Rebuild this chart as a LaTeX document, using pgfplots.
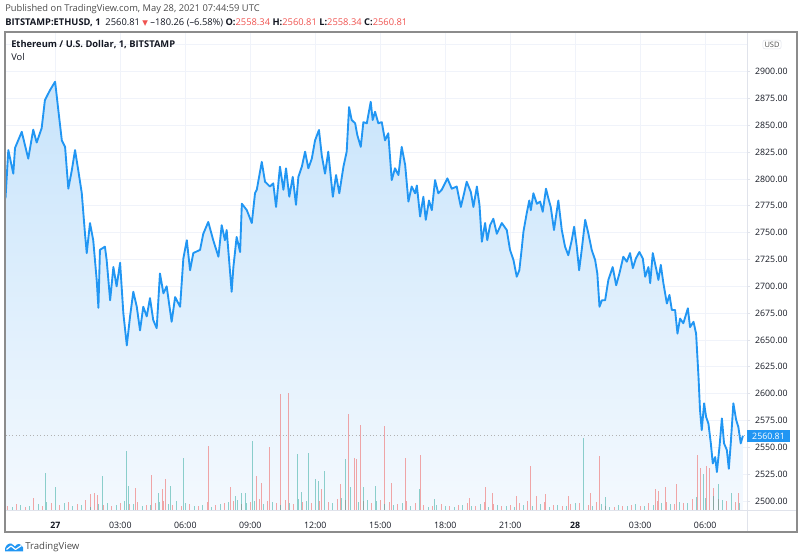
\documentclass[border=0pt]{standalone}
\usepackage{pgfplots}
\usepackage{pgfplotstable}
\pgfplotsset{compat=1.18}
\usepackage{fontspec}
\setmainfont{Open Sans}
\newfontfamily\sym{DejaVu Sans}
\definecolor{tvblue}{RGB}{33,150,243}
\definecolor{tvred}{RGB}{239,83,80}
\definecolor{tvgreen}{RGB}{38,166,154}
\definecolor{gridc}{RGB}{240,243,250}
\definecolor{txt}{RGB}{19,23,34}
\definecolor{hdr}{RGB}{74,74,74}
\definecolor{fillTop}{RGB}{200,228,251}
\definecolor{fillBot}{RGB}{244,249,254}
\definecolor{frame}{RGB}{140,140,140}
\definecolor{sep}{RGB}{224,227,235}

\pgfplotstableread{
t p
-2.30 2782
-2.17 2827
-1.94 2805
-1.86 2829
-1.55 2844
-1.25 2819
-1.02 2846
-0.86 2834
-0.63 2847.5
-0.48 2873.6
-0.24 2883
-0.01 2890.7
0.14 2864
0.30 2836
0.45 2830
0.60 2791
0.76 2808
0.91 2827
1.06 2808
1.22 2787
1.37 2749
1.45 2731
1.60 2759
1.75 2743
1.91 2706
1.99 2680
2.06 2734
2.29 2737
2.37 2724.5
2.53 2687
2.68 2718
2.83 2700
2.99 2722
3.14 2675
3.30 2645
3.45 2672
3.60 2695
3.76 2681
3.91 2659
4.06 2681
4.22 2672
4.37 2689
4.52 2668.6
4.68 2661
4.83 2712
4.99 2693.5
5.14 2700
5.37 2667
5.53 2690
5.76 2681
5.91 2726
6.07 2743
6.22 2715
6.37 2731
6.68 2734
6.83 2749
7.06 2760
7.29 2743
7.53 2727.6
7.68 2757
7.83 2743
7.91 2752.5
8.14 2695
8.22 2718
8.37 2746
8.53 2732
8.61 2777
8.84 2771
9.07 2759
9.22 2787
9.30 2790
9.53 2816
9.68 2797.5
9.91 2793
10.06 2796
10.19 2774
10.37 2811.5
10.53 2790
10.65 2810
10.80 2783.5
10.96 2802
11.11 2776
11.22 2802
11.38 2811.5
11.53 2825.5
11.68 2810
11.84 2819
11.99 2836
12.17 2845.7
12.30 2822
12.45 2805
12.60 2825.5
12.81 2783.5
12.96 2803.7
13.11 2786.7
13.30 2811.5
13.45 2825.5
13.56 2867
13.68 2855
13.84 2852
13.94 2841
14.10 2830
14.22 2853
14.38 2852
14.56 2872
14.65 2855
14.76 2862.7
14.91 2852
15.07 2853
15.22 2836
15.37 2842.6
15.53 2799
15.68 2810
15.84 2803.7
15.99 2830
16.15 2813
16.30 2779
16.45 2793
16.61 2786.7
16.69 2794
16.84 2765
16.99 2783.5
17.10 2762
17.25 2780
17.38 2771
17.53 2799
17.68 2786.7
17.84 2790
18.10 2800.6
18.30 2791
18.53 2793
18.72 2774
18.87 2786.7
18.99 2797.5
19.18 2788
19.30 2774
19.46 2793
19.58 2776
19.69 2741.6
19.84 2759
19.94 2743
20.07 2757
20.22 2763
20.38 2749
20.61 2759
20.84 2752.5
20.99 2734
21.15 2724.5
21.30 2709
21.42 2715
21.53 2735
21.61 2751
21.76 2768
21.88 2780
21.95 2771
22.07 2786.7
22.23 2777
22.38 2779
22.50 2769.5
22.65 2791
22.76 2782
22.87 2774
23.02 2752.5
23.22 2780
23.38 2752.5
23.53 2737
23.68 2729
23.84 2743
23.95 2755.6
24.07 2737
24.18 2715
24.30 2734
24.46 2762
24.61 2749
24.76 2734
24.92 2724.5
25.02 2712
25.12 2681
25.23 2687
25.38 2687
25.53 2706
25.73 2718
25.89 2701
26.04 2712
26.22 2727.6
26.38 2723
26.53 2731
26.66 2717
26.80 2726
26.96 2732
27.12 2726
27.23 2709
27.38 2718
27.46 2703
27.58 2731
27.73 2717
27.84 2706
27.95 2720
28.07 2703
28.23 2684
28.35 2692
28.46 2678
28.61 2678
28.72 2656
28.84 2670
28.99 2665.6
29.20 2679.5
29.30 2662
29.46 2667
29.58 2656
29.69 2616
29.76 2585
29.84 2566
29.95 2591
30.04 2578.5
30.15 2572
30.26 2553.7
30.35 2535
30.46 2541
30.54 2527
30.66 2550.6
30.77 2577
30.87 2553.7
31.00 2547.5
31.09 2530
31.18 2553.7
31.30 2591
31.43 2575.5
31.53 2569
31.64 2553.7
31.74 2560.81
}\price

\pgfplotstableread{
t v
-1.03 13
1.60 17
1.79 18
1.93 16
3.68 23
4.45 36
4.93 22
5.10 32
7.06 65
8.07 24
9.30 35
9.50 28
9.88 64
10.41 117
10.76 118
12.30 22
13.18 27
13.53 97
13.79 53
13.88 52
14.10 86
15.21 85
15.53 28
16.14 53
16.84 56
19.10 13
19.84 24
20.18 18
21.30 15
21.92 45
22.23 15
22.64 17
23.68 15
24.69 18
25.12 55
27.69 22
27.84 20
28.15 24
28.69 27
29.66 56
29.76 43
30.04 45
30.19 43
30.38 23
31.53 18
-2.2 5
-1.8 7
-1.4 4
-1.0 6
-0.6 5
-0.2 8
0.2 6
0.6 9
1.0 7
1.4 11
1.8 10
2.2 6
2.6 5
3.0 8
3.4 7
3.8 9
4.2 6
4.6 8
5.0 10
5.4 6
5.8 5
6.2 7
6.6 5
7.0 9
7.4 6
7.8 8
8.2 10
8.6 7
9.0 9
9.4 12
9.8 10
10.2 8
10.6 11
11.0 7
11.4 9
11.8 8
12.2 10
12.6 9
13.0 12
13.4 11
13.8 13
14.2 10
14.6 8
15.0 11
15.4 9
15.8 7
16.2 10
16.6 8
17.0 6
17.4 5
17.8 7
18.2 5
18.6 6
19.0 8
19.4 5
19.8 9
20.2 7
20.6 5
21.0 6
21.4 8
21.8 10
22.2 7
22.6 9
23.0 6
23.4 5
23.8 7
24.2 8
24.6 6
25.0 9
25.4 5
25.8 4
26.2 5
26.6 6
27.0 5
27.4 8
27.8 10
28.2 9
28.6 7
29.0 8
29.4 12
29.8 16
30.2 14
30.6 12
31.0 10
31.4 9
}\volred

\pgfplotstableread{
t v
-0.48 38
-0.01 24
2.19 35
3.26 60
3.36 25
4.74 18
5.30 25
5.91 53
8.30 15
8.61 18
8.76 18
9.11 70
11.17 57
11.38 19
11.68 58
11.99 32
12.14 30
12.41 40
13.37 52
13.64 24
14.22 24
14.76 25
16.81 22
17.48 12
24.38 73
25.38 14
29.92 37
30.61 27
31.23 18
-2.0 4
-1.6 6
-1.2 5
-0.8 7
-0.4 9
0.0 6
0.4 8
0.8 5
1.2 6
1.6 4
2.0 7
2.4 8
2.8 6
3.2 10
3.6 7
4.0 5
4.4 6
4.8 9
5.2 7
5.6 10
6.0 8
6.4 5
6.8 6
7.2 4
7.6 7
8.0 9
8.4 11
8.8 8
9.2 10
9.6 7
10.0 9
10.4 6
10.8 8
11.2 12
11.6 10
12.0 9
12.4 11
12.8 8
13.2 13
13.6 12
14.0 9
14.4 11
14.8 10
15.2 7
15.6 6
16.0 8
16.4 5
16.8 7
17.2 4
17.6 6
18.0 5
18.4 4
18.8 6
19.2 5
19.6 7
20.0 4
20.4 6
20.8 5
21.2 4
21.6 6
22.0 5
22.4 7
22.8 4
23.2 6
23.6 5
24.0 8
24.4 6
24.8 5
25.2 7
25.6 4
26.0 6
26.4 5
26.8 7
27.2 5
27.6 6
28.0 8
28.4 7
28.8 9
29.2 8
29.6 14
30.0 13
30.4 15
30.8 11
31.2 10
31.6 8
}\volgreen

\pgfplotsset{
  tv/.style={
    scale only axis, width=556.125pt, height=359.25pt,
    at={(4.125pt,36.75pt)}, anchor=south west,
    xmin=-2.30, xmax=31.93,
    axis line style={draw=none},
    clip=true,
  },
  pr/.style={ymin=2490.7, ymax=2937},
}

\begin{document}
\begin{tikzpicture}
\path[use as bounding box] (0,0) rectangle (600pt,420pt);

% grid + area fill
\begin{axis}[tv, pr,
  xtick={0,3,...,30}, ytick={2500,2525,...,2925},
  xticklabels={}, yticklabels={},
  tick style={draw=none},
  grid=major, major grid style={draw=gridc, line width=0.6pt}]
\addplot[draw=none, top color=fillTop, bottom color=fillBot]
  table[x=t,y=p]{\price} -- (31.74,2490.7) -- (-2.30,2490.7) -- cycle;
\end{axis}

% volume
\begin{axis}[tv, ymin=0, ymax=479, xtick=\empty, ytick=\empty]
\addplot[ycomb, draw=tvred, opacity=0.5, line width=0.6pt, no markers] table[x=t,y=v]{\volred};
\addplot[ycomb, draw=tvgreen, opacity=0.5, line width=0.6pt, no markers] table[x=t,y=v]{\volgreen};
\end{axis}

% price line and tick labels
\begin{axis}[tv, pr,
  xtick={0,3,...,30},
  xticklabels={\textbf{27},03:00,06:00,09:00,12:00,15:00,18:00,21:00,\textbf{28},03:00,06:00},
  ytick={2500,2525,...,2900},
  yticklabel pos=right,
  yticklabel={\pgfmathprintnumber[fixed,fixed zerofill,precision=2,1000 sep={}]{\tick}},
  /pgf/number format/assume math mode=true,
  xtick style={draw=none},
  ytick style={draw=sep, line width=0.6pt},
  ytick pos=right, tick align=outside, major tick length=2.5pt,
  ticklabel style={font=\fontsize{6.6}{8}\selectfont, text=txt},
  xticklabel style={anchor=center, yshift=-8.1pt},
  yticklabel style={anchor=center, xshift=15.8pt},
]
\addplot[draw=gray!60, dotted, line width=0.6pt] coordinates {(-2.30,2560.81) (31.93,2560.81)};
\addplot[draw=tvblue, line width=1.4pt, line join=round, no markers] table[x=t,y=p]{\price};
\end{axis}

\begin{scope}[shift={(0,420pt)}, x=0.75pt, y=-0.75pt]
  % frame and separators
  \draw[sep, line width=0.75pt] (5,511) -- (797,511);
  \draw[sep, line width=0.75pt] (747,32) -- (747,532);
  \draw[frame, line width=0.9pt] (5,32) rectangle (797,532);
  % last price label
  \node[fill=tvblue, text=white, inner sep=0pt, minimum width=32.25pt, minimum height=9pt,
        font=\fontsize{6.6}{8}\selectfont] at (768.5,436) {2560.81};
  % USD badge
  \node[fill=white, draw=sep, rounded corners=1.5pt, inner sep=1.2pt, text=hdr,
        font=\fontsize{5.6}{7}\selectfont] at (772,44.5) {USD};
  % header
  \node[anchor=west, inner sep=0pt, text=hdr, font=\fontsize{7}{8}\selectfont] at (5,9)
    {Published on TradingView.com, May 28, 2021 07:44:59 UTC};
  \node[anchor=west, inner sep=0pt, text=txt, font=\fontsize{7}{8}\selectfont] at (5,22.5)
    {\textbf{BITSTAMP:ETHUSD, 1}\ \ 2560.81 {\color{tvred}\sym\fontsize{5.5}{7}\selectfont ▼} –180.26 (–6.58\%) \textbf{O:}{\color{tvred}2558.34} \textbf{H:}{\color{tvred}2560.81} \textbf{L:}{\color{tvred}2558.34} \textbf{C:}{\color{tvred}2560.81}};
  \node[anchor=west, inner sep=0pt, text=txt, font=\bfseries\fontsize{7}{8}\selectfont] at (11,45)
    {Ethereum / U.S. Dollar, 1, BITSTAMP};
  \node[anchor=west, inner sep=0pt, text=txt, font=\fontsize{7}{8}\selectfont] at (11,57.5) {Vol};
  % logo
  \fill[tvblue] (5,551.5) -- (5,548.5) .. controls (6,545) and (9,543) .. (11,543.5)
     .. controls (13,544) and (14,546) .. (15,546.5) .. controls (17,543) and (21,543) .. (23,547.5)
     -- (23,551.5) -- cycle;
  \draw[white, line width=0.9pt, line join=round] (6.5,549.5) -- (11,546) -- (15.5,549.5) -- (21.5,545.5);
  \node[anchor=west, inner sep=0pt, text=hdr, font=\fontsize{7.2}{8}\selectfont] at (25,547.5) {TradingView};
\end{scope}
\end{tikzpicture}
\end{document}
